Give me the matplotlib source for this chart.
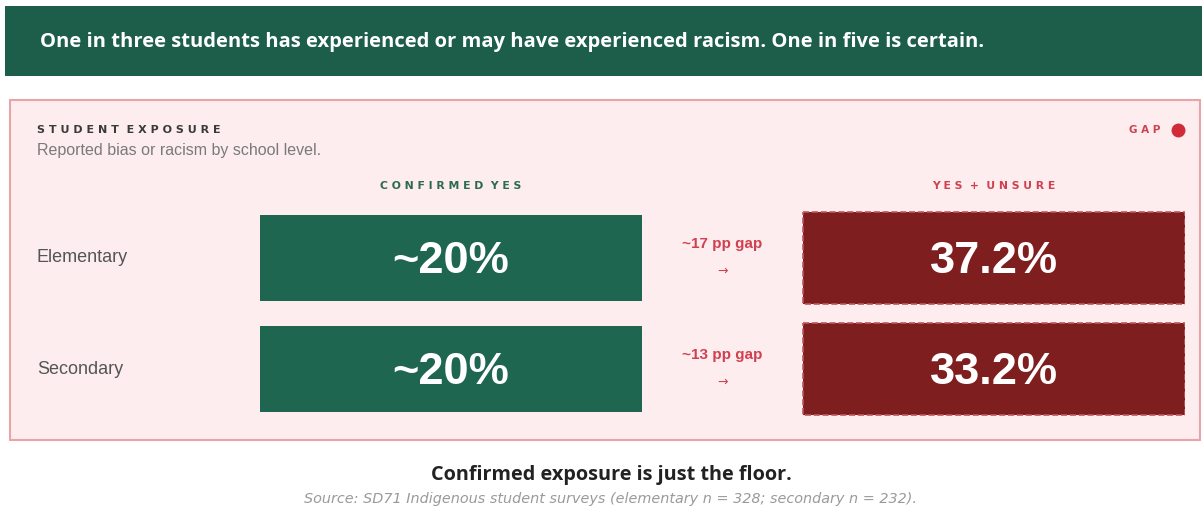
import matplotlib.pyplot as plt
from matplotlib.patches import Rectangle

# Datos
niveles = ["Elementary", "Secondary"]
confirmado = [20, 20]
si_o_inseguro = [37.2, 33.2]
brecha = [17, 13]

titulo = "One in three students has experienced or may have experienced racism. One in five is certain."
conclusion = "Confirmed exposure is just the floor."
fuente = "Source: SD71 Indigenous student surveys (elementary n = 328; secondary n = 232)."

VERDE_OSC = "#1c5e49"
VERDE = "#1e6650"
ROJO = "#7f1e1f"
ROJO_TXT = "#cf4150"
ROSA = "#fdedee"
BORDE = "#e8a4a8"

plt.rcParams["font.family"] = ["Liberation Sans", "DejaVu Sans"]

fig = plt.figure(figsize=(12.02, 5.12), dpi=100)
fig.patch.set_facecolor("white")

# ------------------ FONDO (coordenadas en pixeles) ------------------
ax0 = fig.add_axes([0, 0, 1, 1])
ax0.set_xlim(0, 1202)
ax0.set_ylim(512, 0)
ax0.axis("off")

ax0.add_patch(Rectangle((5, 6), 1200, 70, facecolor=VERDE_OSC, edgecolor="none"))
ax0.text(40, 42, titulo, color="white", fontsize=14.5, fontweight="bold",
         family=["Open Sans", "DejaVu Sans"], va="center", ha="left")

ax0.add_patch(Rectangle((10, 100), 1190, 340, facecolor=ROSA, edgecolor=BORDE, linewidth=1.5))

ax0.text(37, 130, "S T U D E N T  E X P O S U R E", color="#3a3a3a",
         fontsize=8, fontweight="bold", family=["DejaVu Sans"], va="center")
ax0.text(37, 151, "Reported bias or racism by school level.", color="#7a7a7a",
         fontsize=11.5, va="center")
ax0.text(1160, 130, "G A P", color=ROJO_TXT, fontsize=7.5, fontweight="bold",
         family=["DejaVu Sans"], va="center", ha="right")
ax0.plot(1178, 130, "o", color="#d12b3a", markersize=9)

ax0.text(451, 186, "C O N F I R M E D  Y E S", color="#2d6a52",
         fontsize=7.8, fontweight="bold", family=["DejaVu Sans"], va="center", ha="center")
ax0.text(994, 186, "Y E S  +  U N S U R E", color=ROJO_TXT,
         fontsize=7.8, fontweight="bold", family=["DejaVu Sans"], va="center", ha="center")

ax0.text(611, 475, conclusion, color="#222222", fontsize=14.3, fontweight="bold",
         family=["Open Sans", "DejaVu Sans"], ha="center", va="center")
ax0.text(611, 499, fuente, color="#9a9a9a", fontsize=10.4, style="italic",
         family=["DejaVu Sans"], ha="center", va="center")

# ------------------ TARJETAS ------------------
ax = fig.add_axes([260 / 1202, 1 - 424.5 / 512, 925 / 1202, 222 / 512])
ax.set_xlim(0, 2.42)
ax.set_ylim(len(niveles) - 0.5, -0.5)
ax.axis("off")
ax.patch.set_alpha(0)

filas = range(len(niveles))
ax.barh(filas, [1] * len(niveles), left=0, height=0.78, color=VERDE)
ax.barh(filas, [1] * len(niveles), left=1.42, height=0.82, color=ROJO,
        edgecolor="#c0585d", linewidth=1.2, linestyle="--")

for i, nivel in enumerate(niveles):
    ax.text(-0.584, i, nivel, color="#555555", fontsize=13, ha="left", va="center")
    ax.text(0.5, i + 0.03, f"~{confirmado[i]:.0f}%", color="white", fontsize=32.5,
            fontweight="bold", ha="center", va="center")
    ax.text(1.92, i + 0.03, f"{si_o_inseguro[i]:.1f}%", color="white", fontsize=32.5,
            fontweight="bold", ha="center", va="center")
    ax.text(1.21, i - 0.13, f"~{brecha[i]} pp gap", color=ROJO_TXT, fontsize=11,
            fontweight="bold", ha="center", va="center")
    ax.text(1.21, i + 0.12, "\u2192", color=ROJO_TXT, fontsize=9,
            ha="center", va="center", family=["DejaVu Sans"])

fig.savefig("out.png", dpi=100, facecolor="white")
